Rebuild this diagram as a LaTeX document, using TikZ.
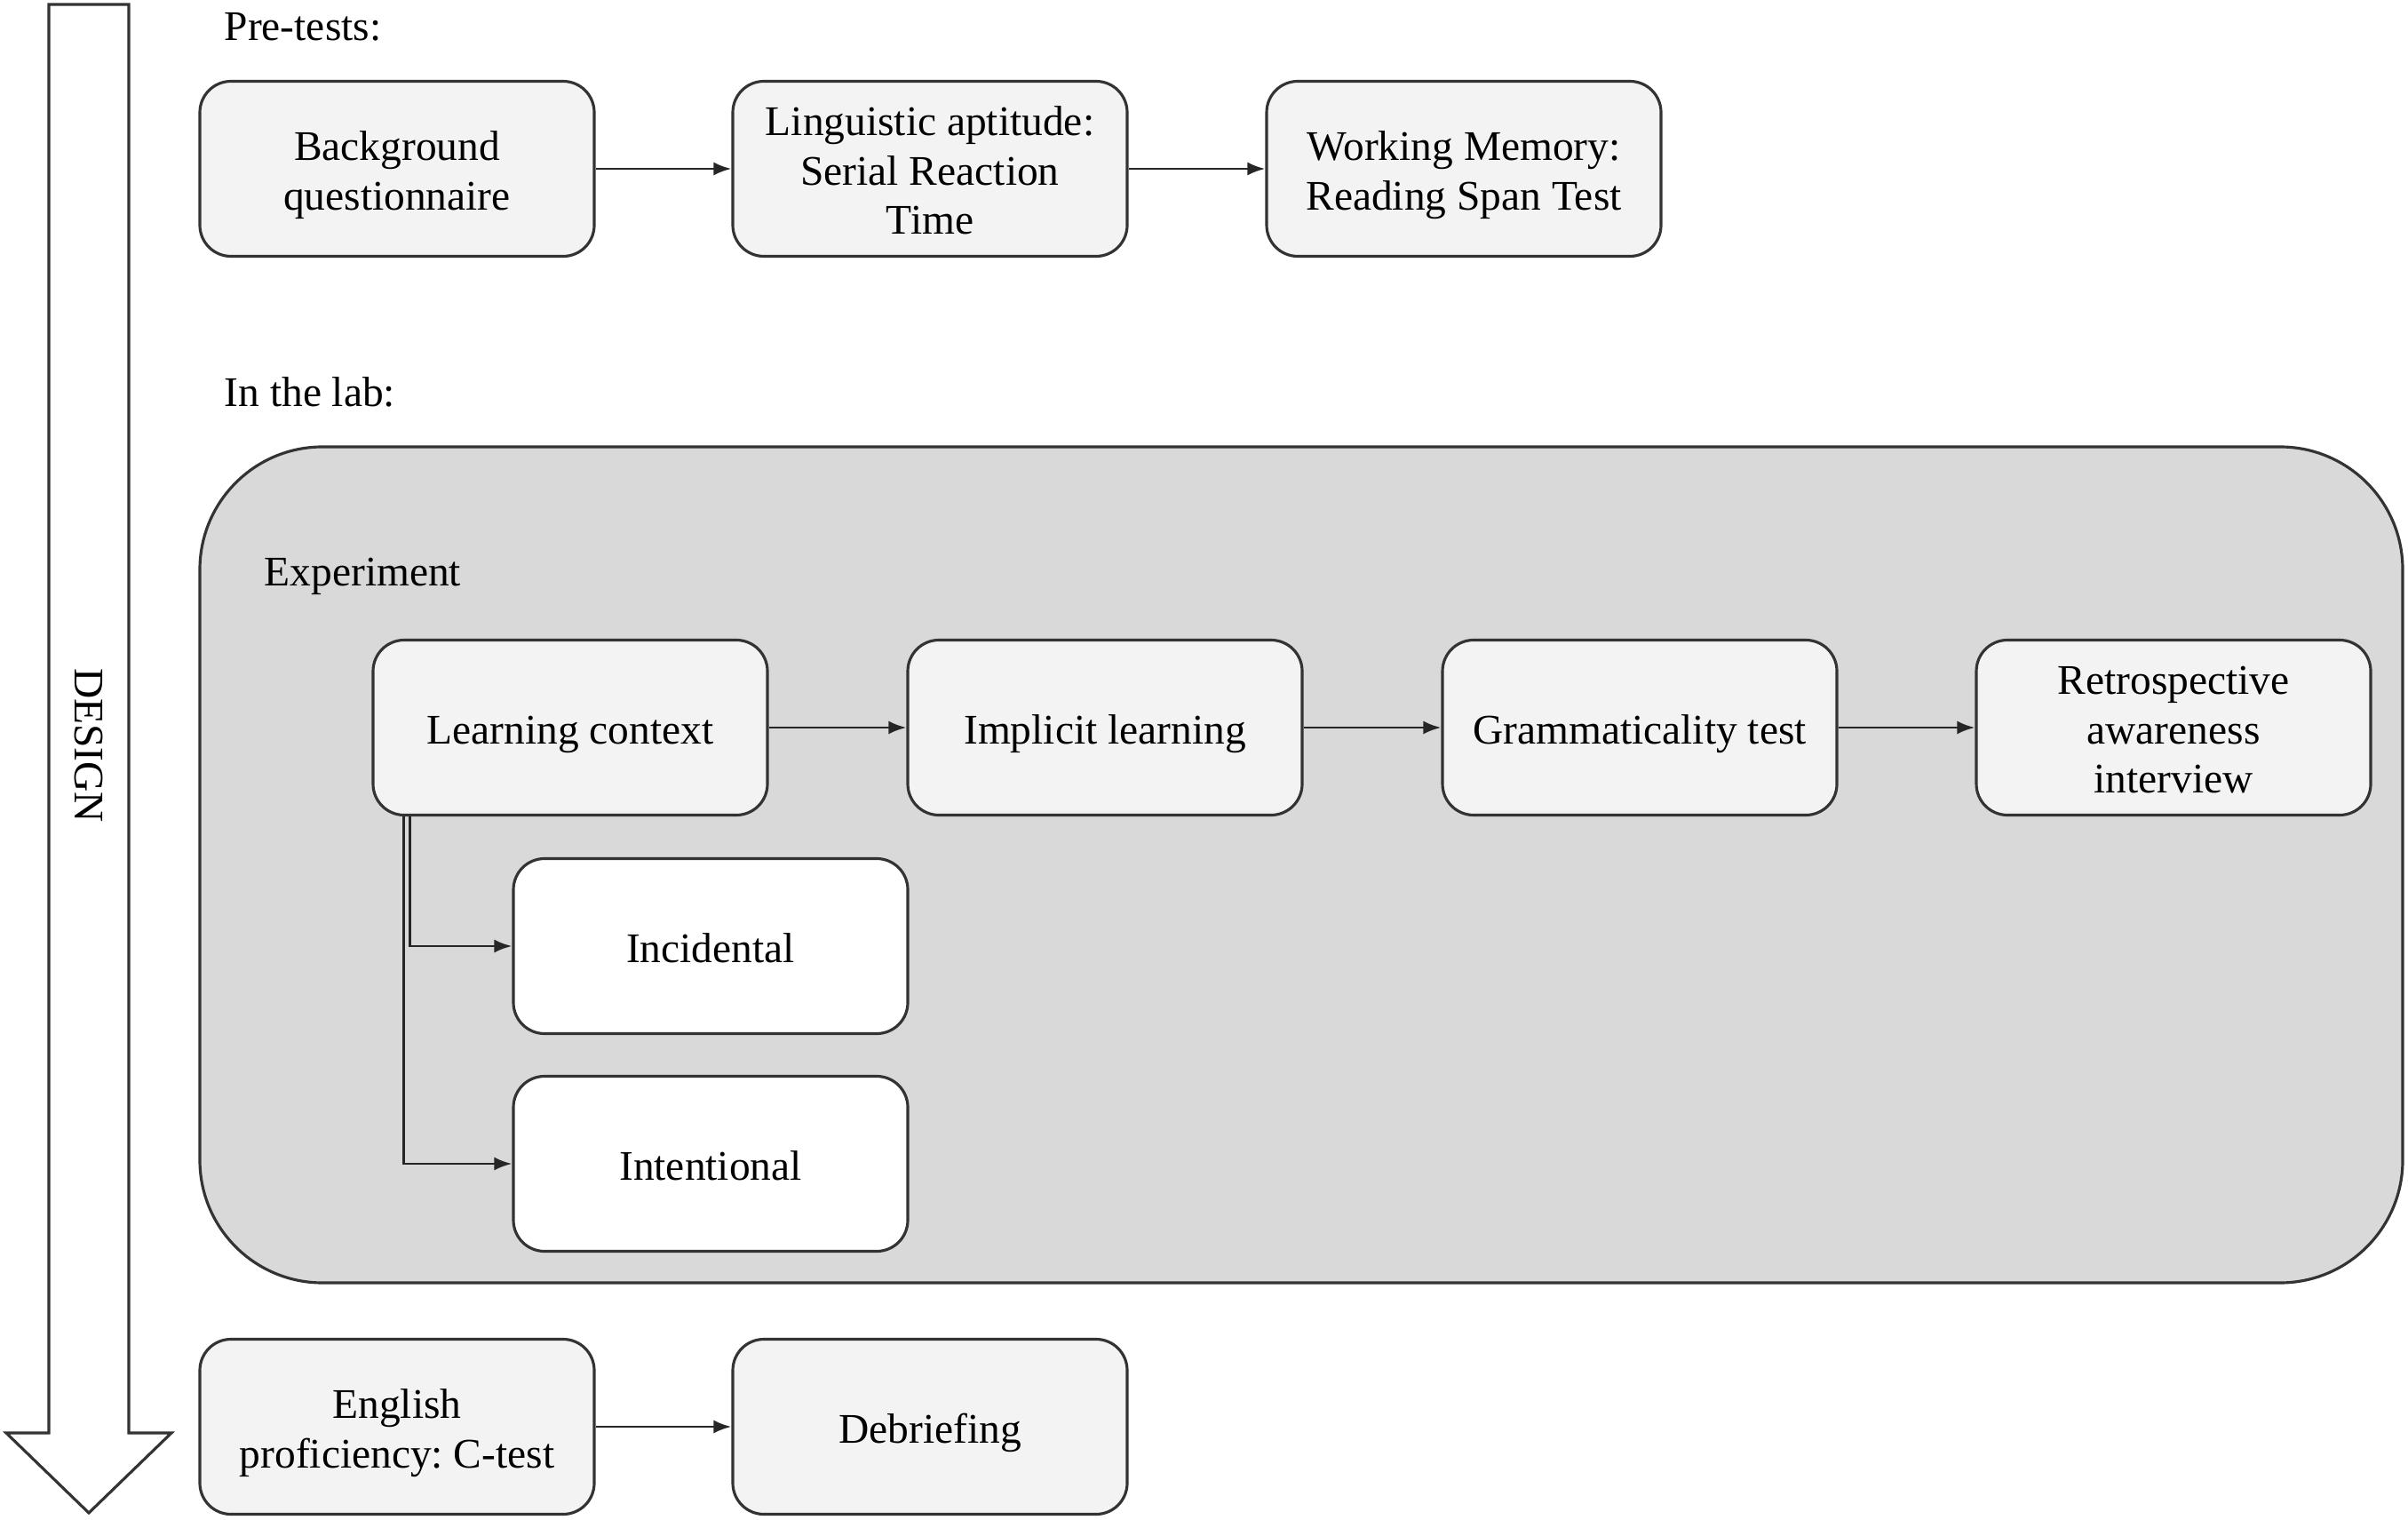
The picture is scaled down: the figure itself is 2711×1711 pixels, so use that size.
\documentclass[tikz,border=0pt]{standalone}
\usepackage{fontspec}
\setmainfont{Liberation Serif}
\usetikzlibrary{arrows.meta}
\definecolor{boxfill}{HTML}{F3F3F3}
\definecolor{contfill}{HTML}{D9D9D9}
\definecolor{edge}{HTML}{333333}
\frenchspacing
\tikzset{
  stage/.style={draw=edge, line width=0.9pt, fill=boxfill, rounded corners=3.5mm,
    minimum width=44.4mm, minimum height=19.7mm, align=center, inner xsep=1mm, inner ysep=0.5mm,
    font=\fontsize{13.5}{15.8}\selectfont, text height=13.4pt, text depth=3pt},
  two/.style={text height=29.2pt},
  three/.style={text height=45pt},
  choice/.style={stage, fill=white},
  lbl/.style={anchor=base west, inner sep=0pt, font=\fontsize{13.5}{16}\selectfont},
  conn/.style={draw=black!85, line width=0.8pt, -{Latex[length=2mm,width=1.5mm]}}
}
\begin{document}
\begin{tikzpicture}[x=0.1mm,y=-0.1mm]
\useasboundingbox (0,0) rectangle (2711,1711);
% design arrow
\draw[draw=edge, line width=0.9pt, fill=white, line join=miter]
  (55,5) -- (145,5) -- (145,1613) -- (193,1613) -- (100,1703) -- (7,1613) -- (55,1613) -- cycle;
\node[rotate=-90, font=\fontsize{13.5}{16}\selectfont] (design) at (100,839) {DESIGN};
% labels
\node[lbl] (pre) at (252,46) {Pre-tests:};
\node[lbl] (lab) at (252,458) {In the lab:};
% container
\draw[draw=edge, line width=0.9pt, fill=contfill, rounded corners=13.8mm] (225,503) rectangle (2705,1444);
\node[lbl] (exp) at (297,660) {Experiment};
% row 1
\node[stage, two] (bg) at (447,190) {Background\\questionnaire};
\node[stage, three] (ling) at (1047,190) {Linguistic aptitude:\\Serial Reaction\\Time};
\node[stage, two] (wm) at (1648,190) {Working Memory:\\Reading Span Test};
% row 2
\node[stage] (learn) at (642,819) {Learning context};
\node[stage] (impl) at (1244,819) {Implicit learning};
\node[stage] (gram) at (1846,819) {Grammaticality test};
\node[stage, three] (retro) at (2447,819) {Retrospective\\awareness\\interview};
\node[choice] (inc) at (800,1065) {Incidental};
\node[choice] (int) at (800,1310) {Intentional};
% row 3
\node[stage, two] (eng) at (447,1606) {English\\proficiency: C-test};
\node[stage] (deb) at (1047,1606) {Debriefing};
% connectors
\draw[conn] (bg) -- (ling);
\draw[conn] (ling) -- (wm);
\draw[conn] (learn) -- (impl);
\draw[conn] (impl) -- (gram);
\draw[conn] (gram) -- (retro);
\draw[conn] ([xshift=4.3mm]learn.south west) |- (inc.west);
\draw[conn] ([xshift=3.6mm]learn.south west) |- (int.west);
\draw[conn] (eng) -- (deb);
\end{tikzpicture}
\end{document}
